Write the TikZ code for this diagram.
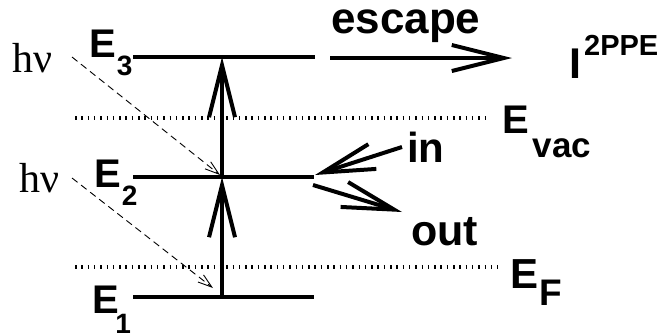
\documentclass[tikz,border=0pt]{standalone}
\usepackage{fontspec}
\setmainfont{Liberation Serif}
\newfontfamily\lsans{Liberation Sans}
\usetikzlibrary{arrows.meta}

\tikzset{
  level/.style={line width=4pt},
  thickarrow/.style={line width=4pt, line join=miter,
    -{Straight Barb[length=52pt, width=26pt, line width=4pt]}},
  photon/.style={line width=0.9pt, dash pattern=on 7pt off 4.5pt,
    -{Straight Barb[length=14pt, width=9pt, line width=0.9pt]}},
  edge/.style={line width=4pt, dash pattern=on 1.5pt off 4.8pt},
  lab/.style={inner sep=0pt, anchor=base west, font=\lsans\bfseries},
  hvlab/.style={inner sep=0pt, anchor=base west, font=\fontsize{42}{42}\selectfont},
}

\begin{document}
\begin{tikzpicture}[x=1pt, y=-1pt]
\useasboundingbox (0,0) rectangle (665,335);

% energy levels
\coordinate (l3a) at (133,57);  \coordinate (l3b) at (315,57);
\coordinate (l2a) at (133,177); \coordinate (l2b) at (314,177);
\coordinate (l1a) at (133,297); \coordinate (l1b) at (314,297);
\draw[level] (l3a) -- (l3b);
\draw[level] (l2a) -- (l2b);
\draw[level] (l1a) -- (l1b);

% vacuum and Fermi levels
\coordinate (va) at (75,118);  \coordinate (vb) at (486,118);
\coordinate (fa) at (75,267);  \coordinate (fb) at (498,267);
\draw[edge] (va) -- (vb);
\draw[edge] (fa) -- (fb);

% level labels
\node[lab] (E3) at (89,57) {\fontsize{40}{40}\selectfont E\kern1pt\raisebox{-18pt}{\fontsize{28}{28}\selectfont 3}};
\node[lab] (E2) at (94,187) {\fontsize{40}{40}\selectfont E\kern1pt\raisebox{-18pt}{\fontsize{28}{28}\selectfont 2}};
\node[lab] (E1) at (92,313) {\fontsize{40}{40}\selectfont E\kern-3.5pt\raisebox{-20pt}{\fontsize{28}{28}\selectfont 1}};
\node[lab] (Evac) at (502,133) {\fontsize{40}{40}\selectfont E\kern4pt\raisebox{-24pt}{\fontsize{35}{35}\selectfont vac}};
\node[lab] (EF) at (510,288) {\fontsize{42}{42}\selectfont E\kern1pt\raisebox{-17pt}{\fontsize{37}{37}\selectfont F}};

% photon labels and absorption paths
\node[hvlab] (hv1) at (12,72) {hν};
\node[hvlab] (hv2) at (19,192) {hν};
\coordinate (p1s) at (72,57);   \coordinate (p1e) at (220,175);
\coordinate (p2s) at (72,178);  \coordinate (p2e) at (213,288);
\draw[photon] (p1s) -- (p1e);
\draw[photon] (p2s) -- (p2e);

% two-step excitation
\coordinate (x1) at (222,297);
\coordinate (x2) at (222,177);
\coordinate (x3) at (222,57);
\draw[thickarrow] (x1) -- (x2);
\draw[thickarrow] (x2) -- (x3);

% escape into vacuum
\coordinate (es) at (330,58);
\coordinate (ee) at (512,58);
\draw[thickarrow] (es) -- (ee);
\node[lab] (esc) at (331,33) {\fontsize{44}{44}\selectfont escape};
\node[lab] (I) at (569,78) {\fontsize{43}{43}\selectfont I\kern3pt\raisebox{23pt}{\fontsize{29}{29}\selectfont 2PPE}};

% in / out scattering at E2
\coordinate (ins) at (402,147);
\coordinate (ine) at (315,175);
\coordinate (outs) at (313,185);
\coordinate (oute) at (402,212);
\draw[thickarrow] (ins) -- (ine);
\draw[thickarrow] (outs) -- (oute);
\node[lab] (in) at (407,162) {\fontsize{42}{42}\selectfont in};
\node[lab] (out) at (411,245) {\fontsize{43}{43}\selectfont out};
\end{tikzpicture}
\end{document}
